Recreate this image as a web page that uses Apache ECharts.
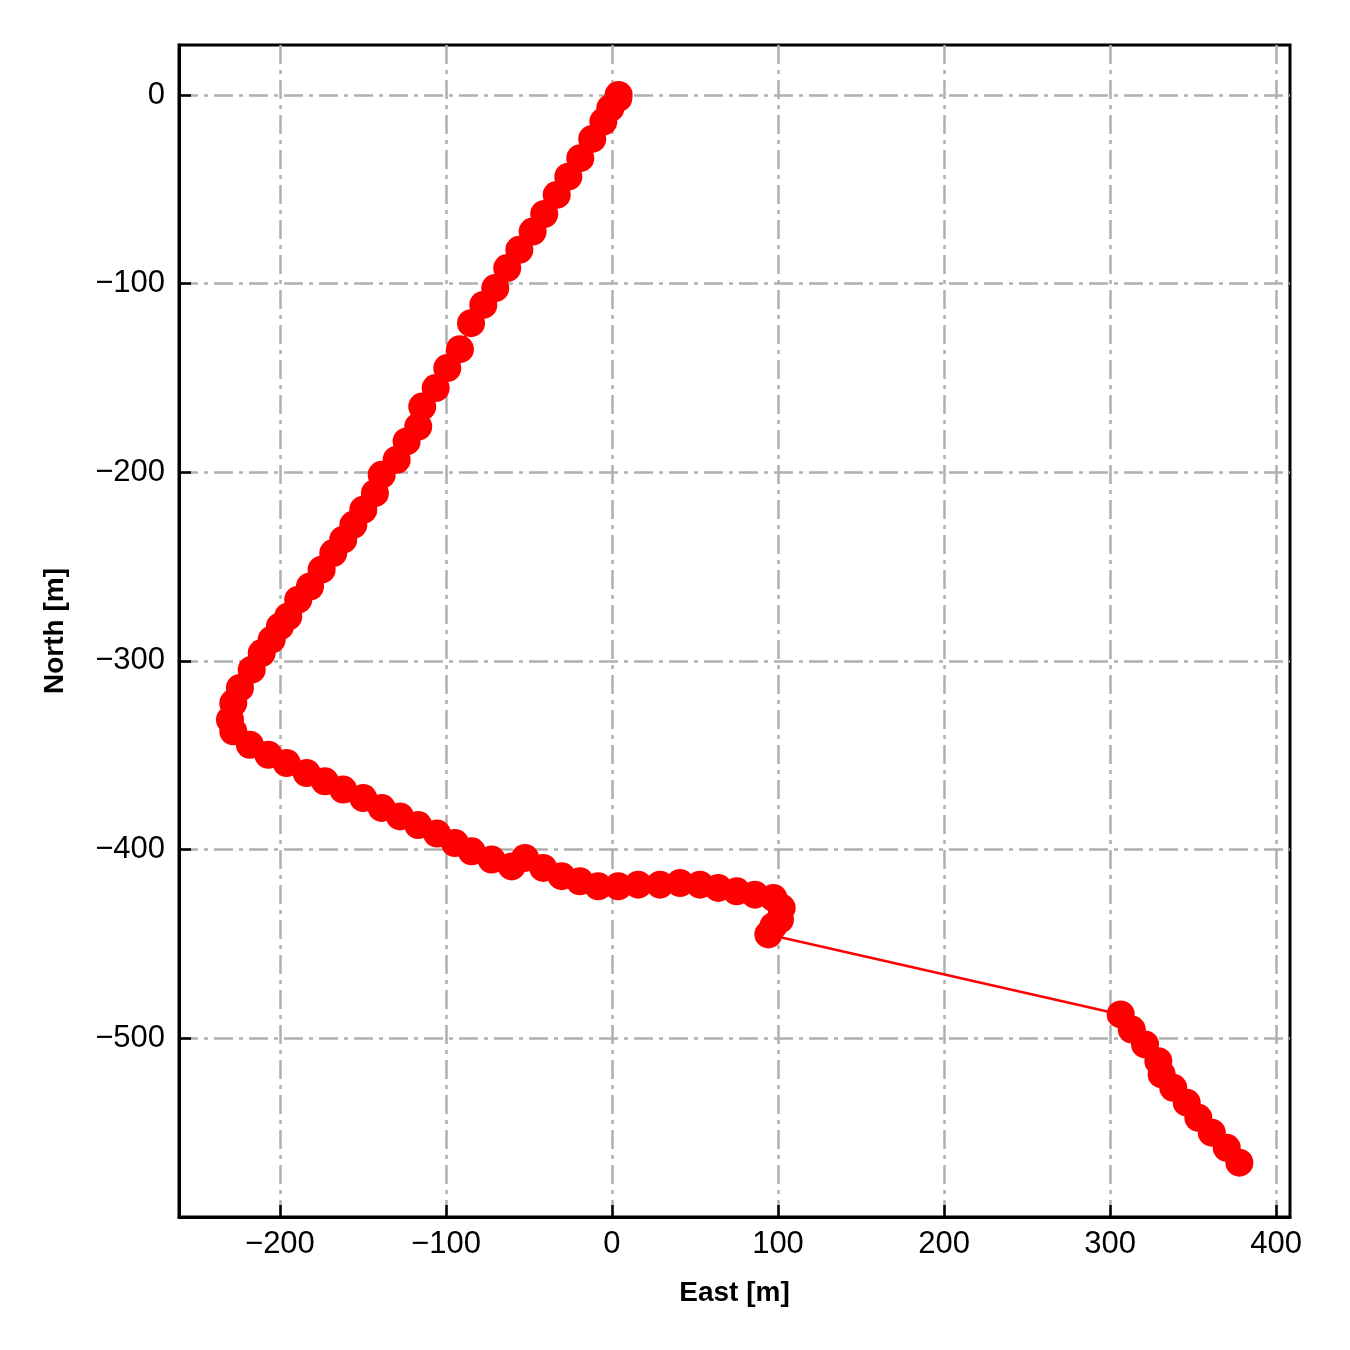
<!DOCTYPE html>
<html>
<head>
<meta charset="utf-8">
<script src="https://cdn.jsdelivr.net/npm/echarts@6/dist/echarts.min.js"></script>
<style>
html,body{margin:0;padding:0;background:#fff;}
#chart{width:1350px;height:1350px;}
</style>
</head>
<body>
<div id="chart"></div>
<script>
// Trajectory (East [m], North [m])
const east = [4, 3.8, -1, -5.2, -11.9, -19.1, -26.3, -33.3, -40.8, -47.8, -55.8, -63.1, -70.3, -77.5, -84.9, -91.6, -99.2, -106.2, -114.3, -116.7, -123.7, -129.7, -138.7, -142.8, -149.8, -155.8, -161.9, -167.9, -174.9, -181.9, -189.0, -195.0, -200.0, -205.0, -211.0, -217.0, -224.1, -228.1, -230.1, -228.1, -218.1, -207.0, -196.0, -183.9, -172.9, -161.9, -149.8, -138.7, -127.7, -116.7, -105.4, -94.6, -84.5, -72.5, -60.4, -52.4, -41.4, -30.3, -19.3, -8.3, 3.8, 15.8, 28.9, 41.0, 53.0, 64.0, 75.1, 86.1, 97.2, 102.2, 101.2, 97.2, 94.2, 306.4, 313.1, 321.1, 329.1, 331.1, 338.1, 346.2, 353.2, 361.3, 370.3, 377.9];
const north = [0, -1.7, -7, -14.1, -23.3, -33.5, -43.3, -53.0, -63.1, -72.4, -82.1, -91.8, -102.4, -111.3, -121.0, -134.8, -144.8, -155.4, -165.2, -175.8, -183.7, -193.4, -201.4, -211.1, -219.9, -227.9, -235.8, -242.9, -251.7, -260.6, -267.6, -276.5, -281.8, -288.8, -295.9, -304.7, -314.4, -322.4, -331.2, -337.4, -344.5, -349.8, -354.2, -359.5, -363.9, -368.3, -372.8, -378.0, -382.5, -387.1, -391.6, -396.6, -401.0, -405.4, -409.0, -404.5, -409.8, -414.2, -416.9, -419.6, -419.6, -418.7, -418.7, -417.8, -418.7, -420.4, -422.2, -424.0, -425.7, -431.0, -437.2, -440.7, -445.1, -487.5, -495.5, -503.4, -512.3, -519.3, -526.4, -534.3, -542.3, -550.2, -558.2, -566.1];
const xTicks = [-200, -100, 0, 100, 200, 300, 400];
const yTicks = [0, -100, -200, -300, -400, -500];
const xRange = [-260.8, 408.4];
const yRange = [-594.9, 26.5];

const pts = east.map((e, i) => [e, north[i]]);
const fmt = v => (v < 0 ? '\u2212' + Math.abs(v) : String(v));
const FONT = '"Liberation Sans", Arial, sans-serif';
const gridLine = {show: true, lineStyle: {color: '#b0b0b0', width: 2.5, type: [19, 6, 4, 6]}};

const chart = echarts.init(document.getElementById('chart'), null, {renderer: 'canvas'});
chart.setOption({
  animation: false,
  backgroundColor: '#ffffff',
  grid: {left: 179, right: 60, top: 45, bottom: 133, show: true, borderColor: '#000', borderWidth: 3, backgroundColor: 'transparent'},
  xAxis: {
    type: 'value', min: xRange[0], max: xRange[1],
    name: 'East [m]', nameLocation: 'middle', nameGap: 62,
    nameTextStyle: {fontFamily: FONT, fontWeight: 'bold', fontSize: 28, color: '#000'},
    axisLine: {show: true, onZero: false, lineStyle: {color: '#000', width: 3}},
    axisTick: {show: true, inside: true, length: 12, customValues: xTicks, lineStyle: {color: '#000', width: 2.5}},
    axisLabel: {customValues: xTicks, formatter: fmt, margin: 12, fontFamily: FONT, fontSize: 31, color: '#000'},
    splitLine: gridLine
  },
  yAxis: {
    type: 'value', min: yRange[0], max: yRange[1],
    name: 'North [m]', nameLocation: 'middle', nameGap: 110,
    nameTextStyle: {fontFamily: FONT, fontWeight: 'bold', fontSize: 28, color: '#000'},
    axisLine: {show: true, onZero: false, lineStyle: {color: '#000', width: 3}},
    axisTick: {show: true, inside: true, length: 12, customValues: yTicks, lineStyle: {color: '#000', width: 2.5}},
    axisLabel: {customValues: yTicks, formatter: fmt, margin: 14, fontFamily: FONT, fontSize: 31, color: '#000'},
    splitLine: gridLine
  },
  series: [
    {type: 'line', data: pts, symbol: 'none', lineStyle: {color: '#ff0000', width: 2.5}, z: 2},
    {type: 'scatter', data: pts, symbol: 'circle', symbolSize: 28, itemStyle: {color: '#ff0000', opacity: 1}, z: 3}
  ]
});
</script>
</body>
</html>
